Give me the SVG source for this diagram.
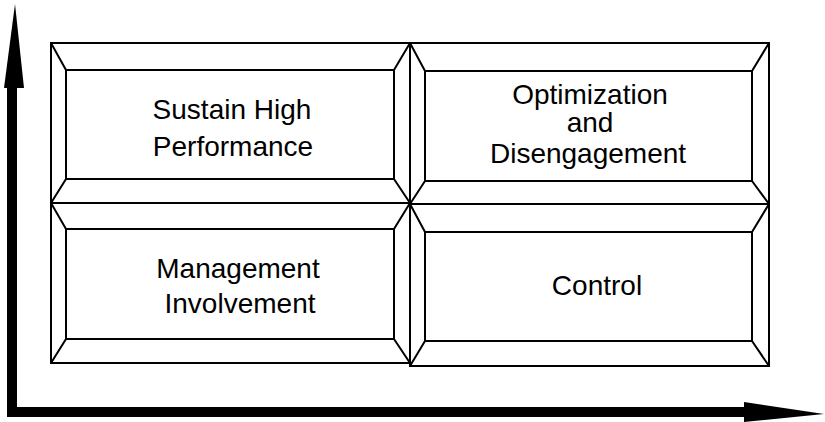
<svg xmlns="http://www.w3.org/2000/svg" width="825" height="422" viewBox="0 0 825 422">
  <style>
    .frame { fill: none; stroke: #000; stroke-width: 2; stroke-linejoin: miter; }
    .label { font-family: "Liberation Sans", Arial, sans-serif; font-size: 28px; fill: #000; text-anchor: middle; }
    .axis { fill: #000; stroke: none; }
  </style>
  <rect width="825" height="422" fill="#fff"/>

  <!-- axes -->
  <g id="connectors">
    <rect class="axis" x="7" y="86" width="10" height="331"/>
    <polygon class="axis" points="15,4 4,88 24,88"/>
    <rect class="axis" x="7" y="407" width="739" height="10"/>
    <polygon class="axis" points="744,402 824,414 744,422"/>
  </g>

  <!-- top-left panel -->
  <g id="sustain-high-performance">
    <rect class="frame" x="51" y="43" width="359" height="160"/>
    <rect class="frame" x="66" y="70" width="328" height="109"/>
    <path class="frame" d="M51,43 L66,70 M410,43 L394,70 M51,203 L66,179 M410,203 L394,179"/>
    <text class="label" x="232" y="119">Sustain High</text>
    <text class="label" x="233" y="156">Performance</text>
  </g>

  <!-- top-right panel -->
  <g id="optimization-disengagement">
    <rect class="frame" x="410" y="43" width="359" height="161"/>
    <rect class="frame" x="425" y="71" width="327" height="110"/>
    <path class="frame" d="M410,43 L425,71 M769,43 L752,71 M410,204 L425,181 M769,204 L752,181"/>
    <text class="label" x="590" y="104">Optimization</text>
    <text class="label" x="590" y="132">and</text>
    <text class="label" x="588" y="163">Disengagement</text>
  </g>

  <!-- bottom-left panel -->
  <g id="management-involvement">
    <rect class="frame" x="51" y="203" width="359" height="160"/>
    <rect class="frame" x="66" y="229" width="328" height="110"/>
    <path class="frame" d="M51,203 L66,229 M410,203 L394,229 M51,363 L66,339 M410,363 L394,339"/>
    <text class="label" x="238" y="278">Management</text>
    <text class="label" x="240" y="313">Involvement</text>
  </g>

  <!-- bottom-right panel -->
  <g id="control">
    <rect class="frame" x="410" y="204" width="359" height="162"/>
    <rect class="frame" x="425" y="232" width="327" height="109"/>
    <path class="frame" d="M410,204 L425,232 M769,204 L752,232 M410,366 L425,341 M769,366 L752,341"/>
    <text class="label" x="597" y="295">Control</text>
  </g>
</svg>
